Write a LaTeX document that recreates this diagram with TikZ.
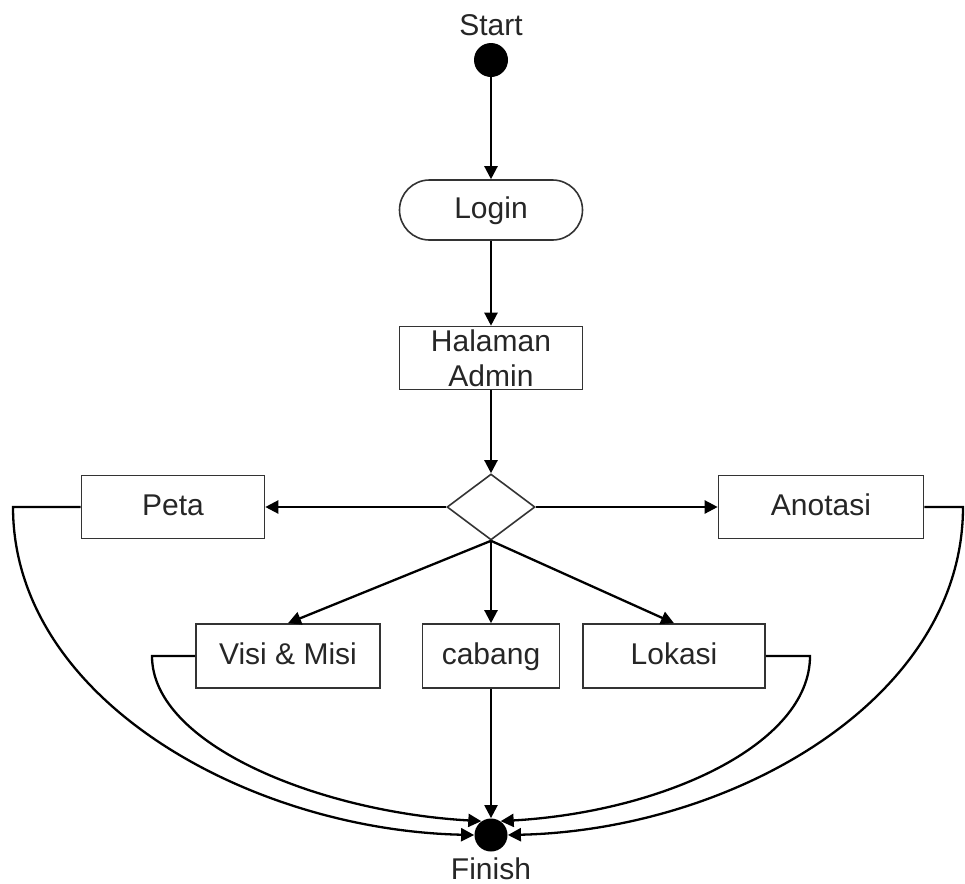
\documentclass[tikz,border=0pt]{standalone}
\usepackage{fontspec}
\setmainfont{Liberation Sans}
\usetikzlibrary{arrows.meta,shapes.geometric}
\begin{document}
\begin{tikzpicture}[x=0.5pt,y=-0.5pt,
  every node/.style={font=\fontsize{15}{17.5}\selectfont, text=black!85},
  box/.style={draw=black!80, line width=0.8pt, rectangle, inner sep=0pt,
              minimum height=31.5pt, align=center},
  onel/.style={box, text height=11pt, text depth=3pt},
  pill/.style={onel, rounded corners=15pt, minimum height=30pt},
  dot/.style={circle, fill=black, inner sep=0pt, minimum size=17pt},
  lbl/.style={inner sep=0pt},
  link/.style={draw=black, line width=1.15pt},
  flow/.style={link, -{Triangle[length=6.5pt,width=6.5pt]}},
]
\useasboundingbox (0,0) rectangle (965,884);

% start / end points
\node[dot] (start) at (491,60) {};
\node[lbl] (startlbl) at (491,25) {Start};
\node[dot, minimum size=16.5pt] (finish) at (491,835) {};
\node[lbl] (finishlbl) at (491,869) {Finish};

% activities
\node[pill, minimum width=91.5pt] (login) at (491,210) {Login};
\node[box, minimum width=91.5pt] (admin) at (491,358) {Halaman\\Admin};
\node[draw=black!80, line width=0.8pt, diamond, inner sep=0pt,
      minimum width=44pt, minimum height=33pt] (dec) at (491,507) {};
\node[onel, minimum width=91.5pt] (peta) at (173,507) {Peta};
\node[onel, minimum width=102.5pt] (anotasi) at (821,507) {Anotasi};
\node[onel, minimum width=92pt, minimum height=32pt] (visi) at (288,656) {Visi \& Misi};
\node[onel, minimum width=68.5pt, minimum height=32pt] (cabang) at (491,656) {cabang};
\node[onel, minimum width=91pt, minimum height=32pt] (lokasi) at (674,656) {Lokasi};

% bend points of the return paths
\coordinate (pl) at (13,507);
\coordinate (vl) at (152,656);
\coordinate (lr) at (810,656);
\coordinate (ar) at (963,507);

% main flow
\draw[flow] (start) -- (login);
\draw[flow] (login) -- (admin);
\draw[flow] (admin) -- (dec.north);
\draw[flow] (dec.west) -- (peta.east);
\draw[flow] (dec.east) -- (anotasi.west);
\draw[flow] (dec.south) -- (visi.north);
\draw[flow] (dec.south) -- (cabang.north);
\draw[flow] (dec.south) -- (lokasi.north);
\draw[flow] (cabang.south) -- (finish.north);

% return paths to finish
\draw[flow] (peta.west) -- (pl) .. controls (13,700) and (250,830) .. (finish.west);
\draw[flow] (visi.west) -- (vl) .. controls (152,745) and (320,812) .. (finish.125);
\draw[flow] (lokasi.east) -- (lr) .. controls (810,745) and (662,812) .. (finish.55);
\draw[flow] (anotasi.east) -- (ar) .. controls (963,700) and (732,830) .. (finish.east);
\end{tikzpicture}
\end{document}
